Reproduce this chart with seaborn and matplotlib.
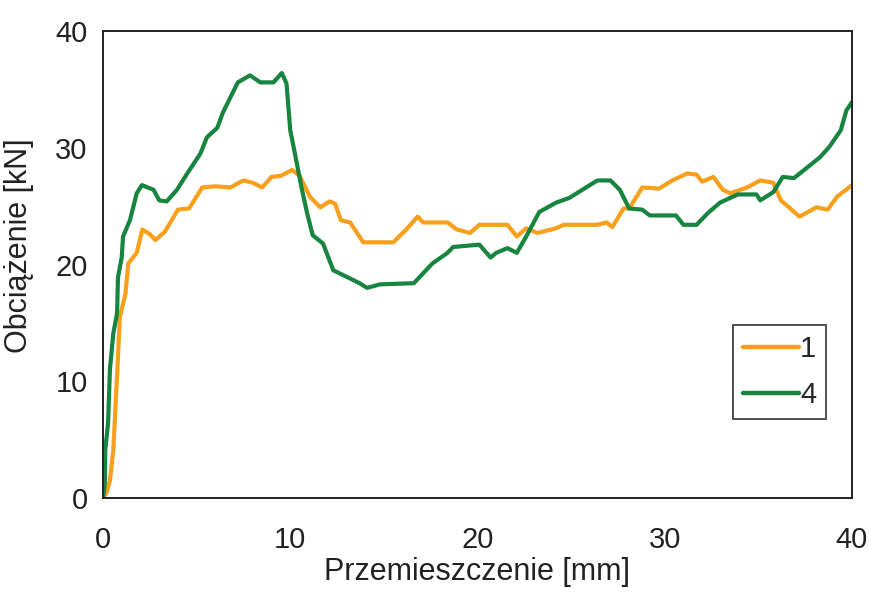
import matplotlib
matplotlib.use("Agg")
import matplotlib.pyplot as plt
import seaborn as sns
import pandas as pd

# Series "1" (orange)
x1 = [0, 0.2, 0.37, 0.55, 0.75, 0.9, 1.2, 1.35, 1.8, 2.1, 2.5, 2.8, 3.3, 4.0, 4.6,
      5.3, 6.0, 6.8, 7.5, 8.0, 8.5, 9.0, 9.5, 10.1, 10.5, 11.05, 11.6, 12.1, 12.4,
      12.7, 13.2, 13.9, 15.5, 16.2, 16.8, 17.1, 18.4, 18.9, 19.6, 20.1, 21.6, 22.1,
      22.6, 23.2, 24.2, 24.6, 26.4, 26.9, 27.2, 27.8, 28.1, 28.8, 29.7, 30.4, 31.2,
      31.7, 32.0, 32.6, 33.1, 33.5, 34.4, 35.1, 35.8, 36.2, 37.2, 38.1, 38.7, 39.2, 40.0]
y1 = [0, 0.5, 1.5, 4.1, 10.4, 15.5, 17.5, 20.1, 21.0, 23.0, 22.6, 22.1, 22.8, 24.7, 24.8,
      26.6, 26.7, 26.6, 27.2, 27.0, 26.6, 27.5, 27.6, 28.1, 27.6, 25.8, 24.9, 25.4, 25.2,
      23.8, 23.6, 21.9, 21.9, 23.0, 24.1, 23.6, 23.6, 23.0, 22.7, 23.4, 23.4, 22.4,
      23.1, 22.7, 23.1, 23.4, 23.4, 23.6, 23.2, 24.8, 24.8, 26.6, 26.5, 27.2, 27.8,
      27.7, 27.1, 27.5, 26.4, 26.1, 26.6, 27.2, 27.0, 25.5, 24.1, 24.9, 24.7, 25.8, 26.8]

# Series "4" (green)
x4 = [0, 0.1, 0.12, 0.27, 0.37, 0.55, 0.75, 0.8, 1.0, 1.07, 1.44, 1.8, 2.08, 2.7, 3.0,
      3.4, 3.95, 4.5, 5.2, 5.55, 6.1, 6.4, 6.8, 7.2, 7.85, 8.4, 9.1, 9.55, 9.8, 10.0,
      10.25, 10.6, 10.9, 11.2, 11.75, 12.3, 13.2, 13.7, 14.1, 14.8, 16.6, 17.6, 18.4,
      18.7, 20.1, 20.7, 21.0, 21.6, 22.1, 22.6, 23.3, 24.2, 24.9, 25.5, 26.4, 27.1,
      27.6, 28.1, 28.8, 29.2, 30.6, 31.0, 31.7, 32.3, 32.95, 33.9, 34.9, 35.1, 35.8,
      36.3, 36.9, 37.6, 38.3, 38.8, 39.4, 39.7, 40.0]
y4 = [0, 1.3, 4.1, 6.4, 11.0, 14.1, 15.8, 18.9, 20.6, 22.4, 23.8, 26.1, 26.8, 26.4, 25.5,
      25.4, 26.4, 27.8, 29.5, 30.9, 31.7, 33.0, 34.3, 35.6, 36.2, 35.6, 35.6, 36.4, 35.5, 31.5,
      29.5, 26.6, 24.4, 22.5, 21.8, 19.5, 18.8, 18.4, 18.0, 18.3, 18.4, 20.1, 21.0,
      21.5, 21.7, 20.6, 21.0, 21.4, 21.0, 22.4, 24.5, 25.3, 25.7, 26.3, 27.2, 27.2,
      26.4, 24.8, 24.7, 24.2, 24.2, 23.4, 23.4, 24.4, 25.3, 26.0, 26.0, 25.5, 26.2,
      27.5, 27.4, 28.3, 29.2, 30.1, 31.5, 33.2, 33.9]

labels = ["1", "4"]
colors = ["#F8A01C", "#17843F"]

x_ticks = [0, 10, 20, 30, 40]
y_ticks = [0, 10, 20, 30, 40]
x_label = "Przemieszczenie [mm]"
y_label = "Obciążenie [kN]"

df = pd.concat([
    pd.DataFrame({"x": x1, "y": y1, "s": labels[0]}),
    pd.DataFrame({"x": x4, "y": y4, "s": labels[1]}),
], ignore_index=True)

sns.set_theme(style="white")
plt.rcParams["font.family"] = ["Liberation Sans", "DejaVu Sans"]

fig = plt.figure(figsize=(8.7, 5.92), dpi=100)
ax = fig.add_axes([103 / 870, 1 - 498 / 592, (852 - 103) / 870, (498 - 31) / 592])

sns.lineplot(data=df, x="x", y="y", hue="s", palette=dict(zip(labels, colors)),
             estimator=None, sort=False, linewidth=3.0, ax=ax)

ax.set_xlim(0, 40)
ax.set_ylim(0, 40)
ax.set_xticks(x_ticks)
ax.set_yticks(y_ticks)
ax.set_xlabel(x_label, fontsize=22, color="#222222", labelpad=2)
ax.set_ylabel(y_label, fontsize=22, color="#222222")
ax.tick_params(axis="both", which="both", direction="out", length=7, width=1.2,
               color="#222222", labelsize=21, labelcolor="#222222")
ax.tick_params(axis="x", pad=13)
ax.tick_params(axis="y", pad=4)
ax.yaxis.set_label_coords(-0.092, 0.54)
for sp in ax.spines.values():
    sp.set_visible(True)
    sp.set_color("#222222")
    sp.set_linewidth(1.4)

leg = ax.legend(loc="upper left", bbox_to_anchor=((733 - 103) / 749, (498 - 325) / 467),
                frameon=True, fancybox=False, fontsize=21, handlelength=1.9,
                handletextpad=0.05, labelspacing=0.6, borderpad=0.35, borderaxespad=0)
leg.get_frame().set_edgecolor("#222222")
leg.get_frame().set_linewidth(1.4)
for line in leg.get_lines():
    line.set_linewidth(3.2)
    line.set_solid_capstyle("round")

fig.savefig("out.png", dpi=100)
